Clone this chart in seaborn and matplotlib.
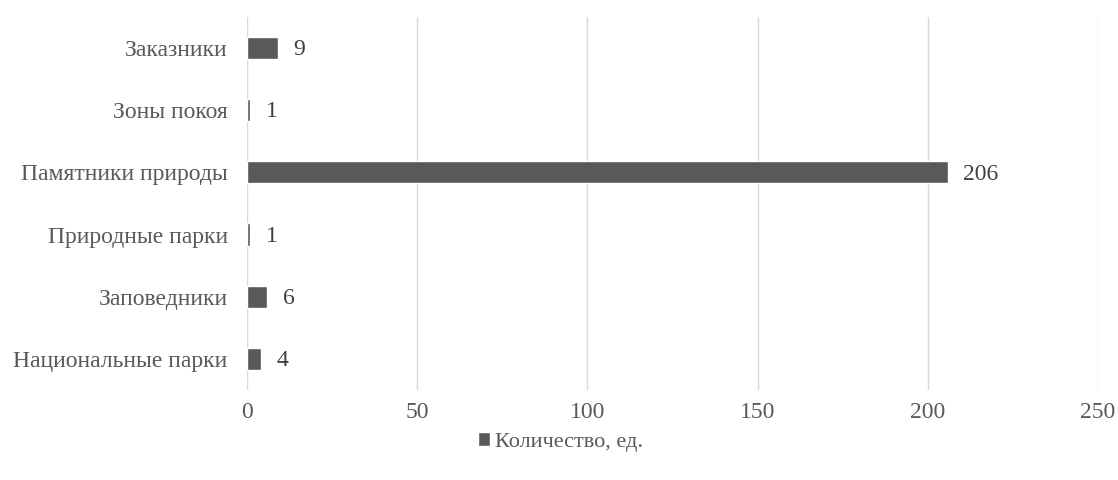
import pandas as pd
import matplotlib
matplotlib.use("Agg")
import matplotlib.pyplot as plt
import seaborn as sns

# Данные
categories = ["Заказники", "Зоны покоя", "Памятники природы",
              "Природные парки", "Заповедники", "Национальные парки"]
values = [9, 1, 206, 1, 6, 4]
series_name = "Количество, ед."

df = pd.DataFrame({"category": categories, "value": values})

sns.set_style("white")
plt.rcParams["font.family"] = ["Liberation Serif", "DejaVu Serif"]

bar_color = "#595959"
text_color = "#595959"

fig = plt.figure(figsize=(11.18, 4.8), dpi=100)
ax = fig.add_axes([0.221, 0.1875, 0.761, 0.7775])

sns.barplot(data=df, x="value", y="category", color=bar_color,
            width=0.36, saturation=1, ax=ax, label=series_name, zorder=3)

# подписи значений
for i, v in enumerate(values):
    ax.text(v + 4.5, i + 0.03, str(v), va="center", ha="left",
            fontsize=17, color="#404040")

ax.set_xlim(0, 250)
ax.set_xticks(range(0, 251, 50))
ax.grid(axis="x", color="#d9d9d9", linewidth=1, zorder=0)
ax.grid(axis="y", visible=False)
for s in ax.spines.values():
    s.set_visible(False)
ax.set_xlabel("")
ax.set_ylabel("")
ax.tick_params(axis="both", length=0, labelsize=17, colors=text_color)
ax.tick_params(axis="x", pad=9)
ax.tick_params(axis="y", pad=14)

ax.legend(loc="center", bbox_to_anchor=(0.368, -0.14), frameon=False,
          fontsize=16, handlelength=0.55, handleheight=0.55, handletextpad=0.2,
          labelcolor=text_color)

fig.savefig("out.png", dpi=100)
